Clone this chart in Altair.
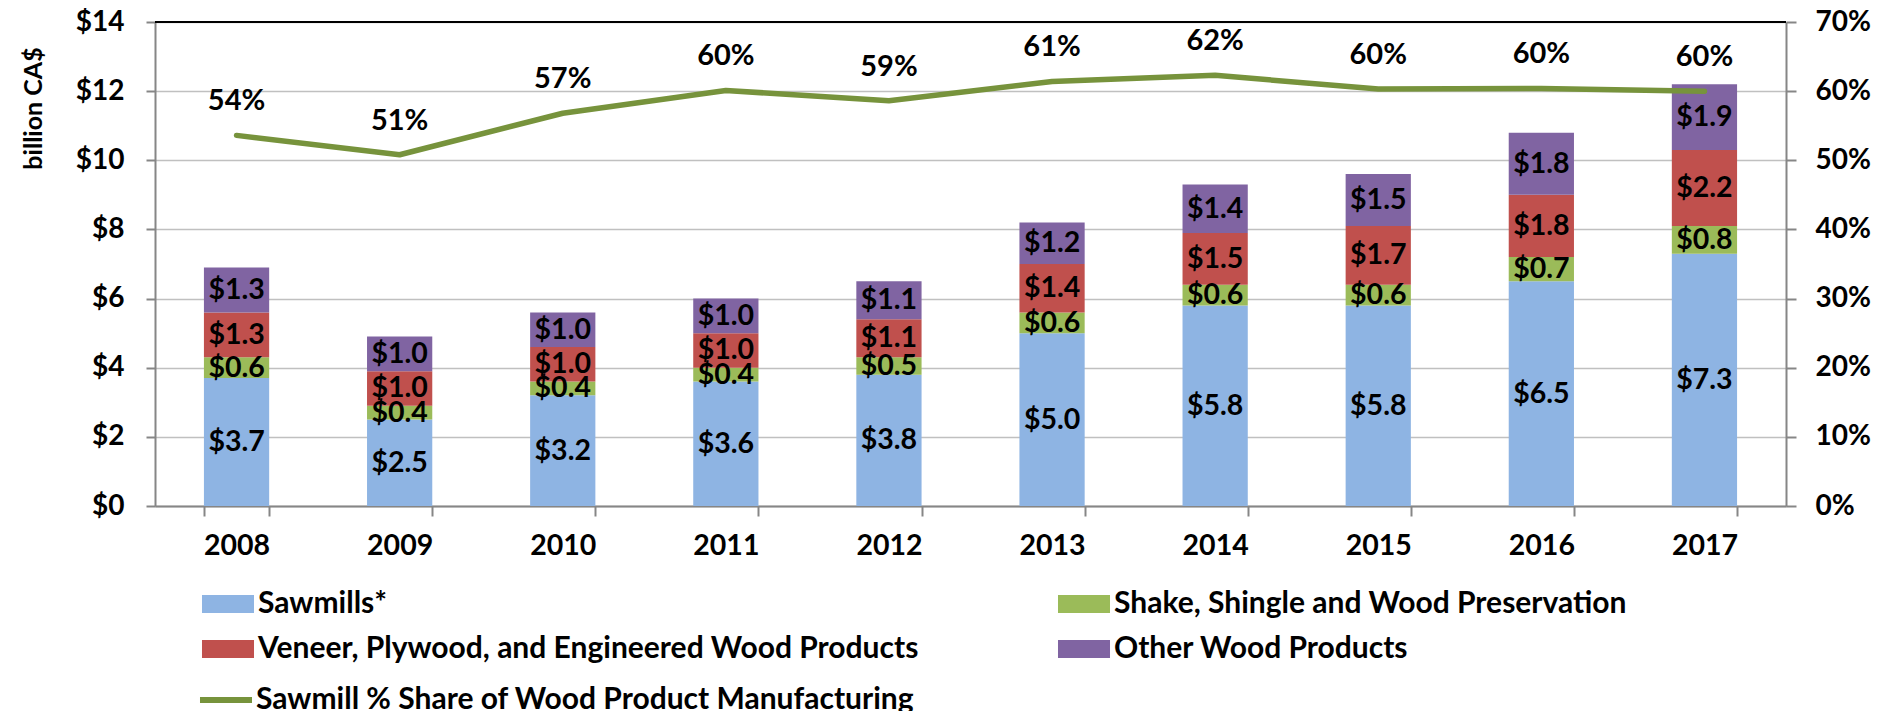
import altair as alt
import pandas as pd

years = ["2008", "2009", "2010", "2011", "2012", "2013", "2014", "2015", "2016", "2017"]
series = [
    "Sawmills*",
    "Shake, Shingle and Wood Preservation",
    "Veneer, Plywood, and Engineered Wood Products",
    "Other Wood Products",
]
sawmills = [3.7, 2.5, 3.2, 3.6, 3.8, 5.0, 5.8, 5.8, 6.5, 7.3]
shake = [0.6, 0.4, 0.4, 0.4, 0.5, 0.6, 0.6, 0.6, 0.7, 0.8]
veneer = [1.3, 1.0, 1.0, 1.0, 1.1, 1.4, 1.5, 1.7, 1.8, 2.2]
other = [1.3, 1.0, 1.0, 1.0, 1.1, 1.2, 1.4, 1.5, 1.8, 1.9]
share = [53.6, 50.8, 56.8, 60.1, 58.6, 61.4, 62.3, 60.3, 60.4, 60.0]
share_labels = ["54%", "51%", "57%", "60%", "59%", "61%", "62%", "60%", "60%", "60%"]
line_name = "Sawmill % Share of Wood Product Manufacturing"

bar_colors = ["#8EB4E3", "#9BBB59", "#C0504D", "#8064A2"]
line_color = "#77933C"
FONT = "Lato"

rows = []
for i, y in enumerate(years):
    base = 0.0
    for k, (name, vals) in enumerate(zip(series, [sawmills, shake, veneer, other])):
        v = vals[i]
        rows.append({"year": y, "series": name, "order": k, "value": v,
                     "mid": base + v / 2, "label": "$" + format(v, ".1f")})
        base += v
bars_df = pd.DataFrame(rows)
line_df = pd.DataFrame({"year": years, "share": share, "label": share_labels, "name": line_name})

xenc = alt.X("year:N", title=None,
             scale=alt.Scale(paddingInner=0.6, paddingOuter=0.3),
             axis=alt.Axis(labelAngle=0, tickBand="extent", tickSize=10, tickWidth=2,
                           tickColor="#868686", domainColor="#868686", domainWidth=2,
                           labelFont=FONT, labelFontSize=28.5, labelFontWeight="bold",
                           labelColor="black", labelPadding=29, labelBaseline="middle"))

yleft = alt.Y("value:Q", stack="zero", title="billion CA$",
              scale=alt.Scale(domain=[0, 14], nice=False),
              axis=alt.Axis(values=list(range(0, 15, 2)), labelExpr="'$' + datum.value",
                            grid=True, gridColor="#C0C0C0", gridWidth=1.5,
                            domainColor="#868686", domainWidth=2,
                            tickColor="#868686", tickWidth=2, tickSize=9, labelPadding=22,
                            labelFont=FONT, labelFontSize=28, labelFontWeight="bold",
                            labelColor="black",
                            titleFont=FONT, titleFontSize=25, titleFontWeight="bold",
                            titleColor="black", titleAngle=270, titleX=-122, titleY=86,
                            titleAlign="center", titleBaseline="middle"))

bars = alt.Chart(bars_df).mark_bar().encode(
    x=xenc,
    y=yleft,
    color=alt.Color("series:N", sort=series,
                    scale=alt.Scale(domain=series, range=bar_colors),
                    legend=alt.Legend(title=None, orient="none", legendX=51, legendY=560,
                                      direction="horizontal",
                                      columns=2, columnPadding=138, rowPadding=8,
                                      symbolType="M-1.182,-0.409H1.182V0.409H-1.182Z",
                                      symbolSize=1936, symbolStrokeWidth=0, symbolOpacity=1,
                                      labelFont=FONT, labelFontSize=30, labelFontWeight="bold",
                                      labelColor="black", labelOffset=8, padding=0,
                                      labelLimit=1000)),
    order=alt.Order("order:Q", sort="ascending"),
)

bar_text = alt.Chart(bars_df).mark_text(
    font=FONT, fontSize=28.5, fontWeight="bold", color="black", baseline="middle"
).encode(
    x=alt.X("year:N"),
    y=alt.Y("mid:Q"),
    text="label:N",
)

top_rule = alt.Chart(bars_df).mark_rule(color="black", strokeWidth=2).encode(
    y=alt.datum(14)
)

left_layer = alt.layer(bars, bar_text, top_rule)

yright = alt.Y("share:Q", title=None,
               scale=alt.Scale(domain=[0, 70], nice=False),
               axis=alt.Axis(orient="right", values=list(range(0, 71, 10)),
                             labelExpr="datum.value + '%'", grid=False,
                             domainColor="#868686", domainWidth=2,
                             tickColor="#868686", tickWidth=2, tickSize=10, labelPadding=19,
                             labelFont=FONT, labelFontSize=28, labelFontWeight="bold",
                             labelColor="black"))

line = alt.Chart(line_df).mark_line(strokeWidth=5.5, strokeCap="round", strokeJoin="round").encode(
    x=alt.X("year:N"),
    y=yright,
    stroke=alt.Stroke("name:N", scale=alt.Scale(domain=[line_name], range=[line_color]),
                      legend=alt.Legend(title=None, orient="none", legendX=46, legendY=653,
                                        symbolType="M-1.182,0H1.182", symbolSize=1936,
                                        symbolStrokeWidth=6,
                                        labelFont=FONT, labelFontSize=30, labelFontWeight="bold",
                                        labelColor="black", labelOffset=5, padding=0,
                                        labelLimit=1000)),
)

line_text = alt.Chart(line_df).mark_text(
    font=FONT, fontSize=29, fontWeight="bold", color="black", baseline="middle", dy=-34
).encode(
    x=alt.X("year:N"),
    y=alt.Y("share:Q"),
    text="label:N",
)

right_layer = alt.layer(line, line_text)

chart = alt.layer(left_layer, right_layer).resolve_scale(y="independent").properties(
    width=1631, height=484,
    padding={"left": 147, "top": 14, "right": 92, "bottom": 205},
    autosize=alt.AutoSizeParams(type="none"),
).configure_view(stroke=None).configure(background="white")

chart.save("out.html", embed_options={"renderer": "svg", "actions": False})
